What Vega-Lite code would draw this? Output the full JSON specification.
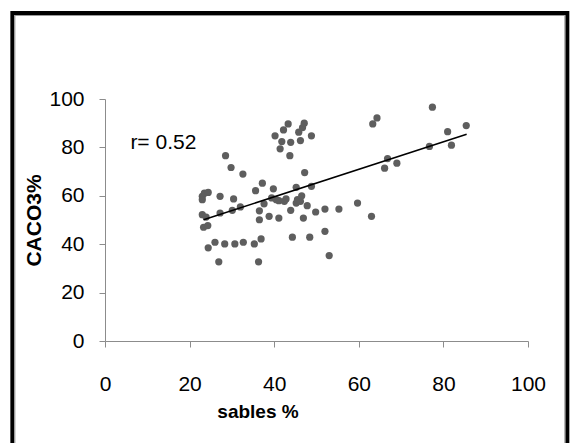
{
  "$schema": "https://vega.github.io/schema/vega-lite/v6.json",
  "width": 423,
  "height": 242,
  "autosize": "none",
  "padding": {"left": 105, "top": 99, "right": 43, "bottom": 102},
  "background": "white",
  "config": {"view": {"stroke": null}},
  "datasets": {
    "points": [
      {"sables": 23.0, "caco3": 59.8}, {"sables": 23.0, "caco3": 58.4}, {"sables": 23.5, "caco3": 61.1},
      {"sables": 24.4, "caco3": 61.4}, {"sables": 23.0, "caco3": 52.2}, {"sables": 23.9, "caco3": 51.2},
      {"sables": 23.3, "caco3": 47.0}, {"sables": 24.3, "caco3": 47.7}, {"sables": 24.4, "caco3": 38.5},
      {"sables": 26.0, "caco3": 40.8}, {"sables": 26.9, "caco3": 32.7}, {"sables": 27.2, "caco3": 59.8},
      {"sables": 27.2, "caco3": 52.9}, {"sables": 28.3, "caco3": 40.1}, {"sables": 28.5, "caco3": 76.6},
      {"sables": 29.8, "caco3": 71.7}, {"sables": 30.4, "caco3": 58.7}, {"sables": 30.1, "caco3": 54.0},
      {"sables": 30.7, "caco3": 40.1}, {"sables": 32.0, "caco3": 55.4}, {"sables": 32.6, "caco3": 69.0},
      {"sables": 32.7, "caco3": 40.8}, {"sables": 35.3, "caco3": 40.1}, {"sables": 35.6, "caco3": 62.1},
      {"sables": 36.3, "caco3": 32.7}, {"sables": 36.5, "caco3": 53.8}, {"sables": 36.5, "caco3": 50.1},
      {"sables": 36.9, "caco3": 42.2}, {"sables": 37.2, "caco3": 65.2}, {"sables": 37.6, "caco3": 56.7},
      {"sables": 38.8, "caco3": 51.5}, {"sables": 39.8, "caco3": 62.9}, {"sables": 39.4, "caco3": 59.1},
      {"sables": 40.2, "caco3": 84.8}, {"sables": 40.5, "caco3": 58.4}, {"sables": 41.1, "caco3": 58.0},
      {"sables": 41.1, "caco3": 50.8}, {"sables": 41.4, "caco3": 79.4}, {"sables": 41.8, "caco3": 82.4},
      {"sables": 42.2, "caco3": 87.2}, {"sables": 42.4, "caco3": 57.7}, {"sables": 42.8, "caco3": 58.7},
      {"sables": 43.3, "caco3": 89.7}, {"sables": 43.7, "caco3": 76.6}, {"sables": 43.9, "caco3": 82.1},
      {"sables": 43.9, "caco3": 54.0}, {"sables": 44.3, "caco3": 42.9}, {"sables": 45.2, "caco3": 63.5},
      {"sables": 45.2, "caco3": 57.0}, {"sables": 45.5, "caco3": 58.4}, {"sables": 45.8, "caco3": 86.3},
      {"sables": 46.2, "caco3": 82.8}, {"sables": 46.2, "caco3": 57.7}, {"sables": 46.5, "caco3": 60.0},
      {"sables": 46.7, "caco3": 88.2}, {"sables": 47.1, "caco3": 90.0}, {"sables": 47.2, "caco3": 69.6},
      {"sables": 46.9, "caco3": 50.8}, {"sables": 47.8, "caco3": 55.9}, {"sables": 48.4, "caco3": 42.9},
      {"sables": 48.8, "caco3": 84.8}, {"sables": 48.8, "caco3": 63.9}, {"sables": 49.8, "caco3": 53.3},
      {"sables": 52.0, "caco3": 54.5}, {"sables": 52.0, "caco3": 45.3}, {"sables": 53.0, "caco3": 35.3},
      {"sables": 55.3, "caco3": 54.5}, {"sables": 59.7, "caco3": 57.0}, {"sables": 63.0, "caco3": 51.5},
      {"sables": 63.3, "caco3": 89.7}, {"sables": 64.3, "caco3": 92.2}, {"sables": 66.1, "caco3": 71.4},
      {"sables": 66.8, "caco3": 75.4}, {"sables": 69.0, "caco3": 73.5}, {"sables": 76.7, "caco3": 80.4},
      {"sables": 77.4, "caco3": 96.6}, {"sables": 81.0, "caco3": 86.5}, {"sables": 81.9, "caco3": 80.9},
      {"sables": 85.4, "caco3": 89.0}
    ],
    "trend": [
      {"sables": 23.3, "caco3": 50.1},
      {"sables": 85.5, "caco3": 85.4}
    ],
    "single": [{}]
  },
  "layer": [
    {
      "data": {"name": "single"},
      "mark": {"type": "rect", "filled": false, "stroke": "black", "strokeWidth": 4, "clip": false},
      "encoding": {
        "x": {"datum": -21.9, "type": "quantitative", "scale": {"domain": [0, 100], "nice": false, "zero": true}},
        "x2": {"datum": 109.3},
        "y": {"datum": 135.5, "type": "quantitative", "scale": {"domain": [0, 100], "nice": false, "zero": true}},
        "y2": {"datum": -60}
      }
    },
    {
      "data": {"name": "single"},
      "mark": {"type": "rect", "filled": false, "stroke": "#9a9a9a", "strokeWidth": 1, "clip": false},
      "encoding": {
        "x": {"datum": -21.3, "type": "quantitative"},
        "x2": {"datum": 108.7},
        "y": {"datum": 134.5, "type": "quantitative"},
        "y2": {"datum": -60}
      }
    },
    {
      "data": {"name": "points"},
      "mark": {"type": "circle", "size": 52, "color": "#5e5e5e", "opacity": 1},
      "encoding": {
        "x": {
          "field": "sables", "type": "quantitative",
          "scale": {"domain": [0, 100], "nice": false, "zero": true},
          "axis": {
            "title": "sables %",
            "values": [0, 20, 40, 60, 80, 100],
            "grid": false,
            "domainColor": "#8c8c8c",
            "tickColor": "#8c8c8c",
            "tickSize": 6,
            "labelFont": "Liberation Sans",
            "labelFontSize": 21,
            "labelColor": "black",
            "labelPadding": 26,
            "labelFlush": false,
            "titleFont": "Liberation Sans",
            "titleFontSize": 19,
            "titleFontWeight": "bold",
            "titleColor": "black",
            "titleX": 152.5,
            "titleY": 76,
            "titleBaseline": "alphabetic",
            "titleAlign": "center"
          }
        },
        "y": {
          "field": "caco3", "type": "quantitative",
          "scale": {"domain": [0, 100], "nice": false, "zero": true},
          "axis": {
            "title": "CACO3%",
            "values": [0, 20, 40, 60, 80, 100],
            "grid": false,
            "domainColor": "#8c8c8c",
            "tickColor": "#8c8c8c",
            "tickSize": 6,
            "labelFont": "Liberation Sans",
            "labelFontSize": 21,
            "labelColor": "black",
            "labelPadding": 15,
            "labelFlush": false,
            "titleFont": "Liberation Sans",
            "titleFontSize": 21,
            "titleFontWeight": "bold",
            "titleColor": "black",
            "titleX": -71,
            "titleY": 121,
            "titleAngle": -90,
            "titleBaseline": "middle",
            "titleAlign": "center"
          }
        }
      }
    },
    {
      "data": {"name": "trend"},
      "mark": {"type": "line", "color": "black", "strokeWidth": 1.5},
      "encoding": {
        "x": {"field": "sables", "type": "quantitative"},
        "y": {"field": "caco3", "type": "quantitative"}
      }
    },
    {
      "data": {"name": "single"},
      "mark": {"type": "text", "text": "r= 0.52", "font": "Liberation Sans", "fontSize": 21, "color": "black", "align": "left", "baseline": "alphabetic"},
      "encoding": {
        "x": {"datum": 6.0, "type": "quantitative"},
        "y": {"datum": 79.3, "type": "quantitative"}
      }
    }
  ]
}
